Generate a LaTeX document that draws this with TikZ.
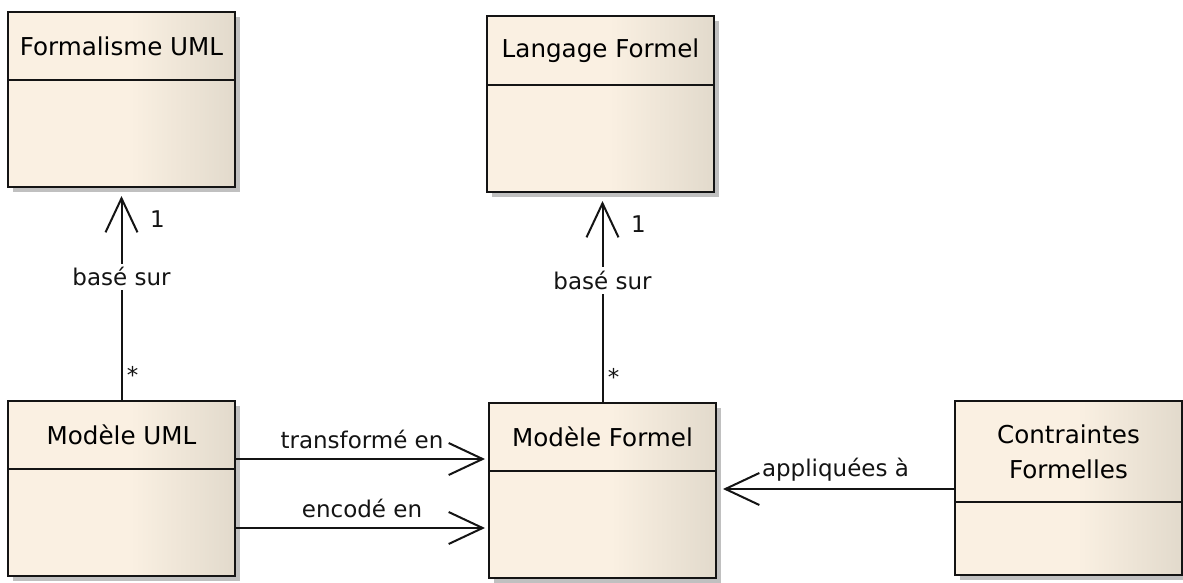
\documentclass[tikz,border=0pt]{standalone}
\usepackage{fontspec}
\setmainfont{DejaVu Sans}
\usepackage{tikz}
\usepackage{xcolor}
\usetikzlibrary{
  arrows.meta,
  positioning,
  calc,
  shadows,
}
\definecolor{classleft}{RGB}{250,240,226}
\definecolor{classright}{RGB}{226,218,204}
\definecolor{shadowcol}{RGB}{192,192,192}
\definecolor{linecol}{RGB}{20,20,20}
\pgfdeclarehorizontalshading{classshade}{100bp}{
  color(0bp)=(classleft); color(25bp)=(classleft); color(52bp)=(classleft);
  color(75bp)=(classright); color(100bp)=(classright)}
\tikzset{
  classhead/.style={
    rectangle, draw=linecol, line width=1.1pt, shading=classshade,
    drop shadow={shadow xshift=2.5pt, shadow yshift=-2.5pt, fill=shadowcol, opacity=1},
    minimum width=113.5pt, minimum height=34pt, inner sep=2pt, outer sep=0pt,
    align=center, font=\fontsize{12.3}{17.5}\selectfont
  },
  classbody/.style={
    classhead, minimum height=53.5pt
  },
  assocline/.style={line width=1pt, draw=linecol},
  assocarrow/.style={assocline, -{Straight Barb[length=17pt, width=16pt]}},
  assoclabel/.style={font=\fontsize{11.5}{13}\selectfont, text=linecol},
  multlabel/.style={font=\fontsize{11.5}{13}\selectfont, text=linecol},
}

\begin{document}
\begin{tikzpicture}[x=0.5pt, y=-0.5pt]
  \path[use as bounding box, fill=white] (0,0) rectangle (1183,583);

  % ── Classes ──
  \node[classhead, anchor=north west] (fuH) at (8,12) {Formalisme UML};
  \node[classbody, below=0pt of fuH] (fu) {};

  \node[classhead, anchor=north west, minimum height=34.5pt] (lfH) at (487,16) {Langage Formel};
  \node[classbody, below=0pt of lfH] (lf) {};

  \node[classhead, anchor=north west] (muH) at (8,401) {Modèle UML};
  \node[classbody, below=0pt of muH] (mu) {};

  \node[classhead, anchor=north west] (mfH) at (489,403) {Modèle Formel};
  \node[classbody, below=0pt of mfH] (mf) {};

  \node[classhead, anchor=north west, minimum height=50.5pt] (cfH) at (955,401) {Contraintes\\Formelles};
  \node[classbody, below=0pt of cfH, minimum height=36.5pt] (cf) {};

  % ── basé sur ──
  \draw[assocarrow, shorten >=4.5pt] (muH.north) -- (muH.north |- fu.south)
    node[assoclabel, pos=0.58, fill=white, inner sep=2pt] (bsA) {basé sur}
    node[multlabel, pos=1, xshift=18pt, yshift=-16pt] (oneA) {1}
    node[multlabel, pos=0, xshift=5.5pt, yshift=13pt] (manyA) {*};
  \draw[assocarrow, shorten >=4.5pt] (mfH.north) -- (mfH.north |- lf.south)
    node[assoclabel, pos=0.58, fill=white, inner sep=2pt] (bsB) {basé sur}
    node[multlabel, pos=1, xshift=18pt, yshift=-16pt] (oneB) {1}
    node[multlabel, pos=0, xshift=5.5pt, yshift=13pt] (manyB) {*};

  % ── transformé / encodé ──
  \coordinate (trA) at ([yshift=5pt]muH.south east);
  \draw[assocarrow, shorten >=2pt] (trA) -- (trA -| mfH.west)
    node[assoclabel, midway, above=1.5pt] (trL) {transformé en};
  \coordinate (enA) at ([yshift=-29.5pt]mu.north east);
  \draw[assocarrow, shorten >=2pt] (enA) -- (enA -| mf.west)
    node[assoclabel, midway, above=1.5pt] (enL) {encodé en};

  % ── appliquées à ──
  \coordinate (apA) at ([yshift=6.5pt]cfH.south west);
  \draw[assocarrow, shorten >=3.5pt] (apA) -- (apA -| mf.east)
    node[assoclabel, midway, above] (apL) {appliquées à};

\end{tikzpicture}
\end{document}
